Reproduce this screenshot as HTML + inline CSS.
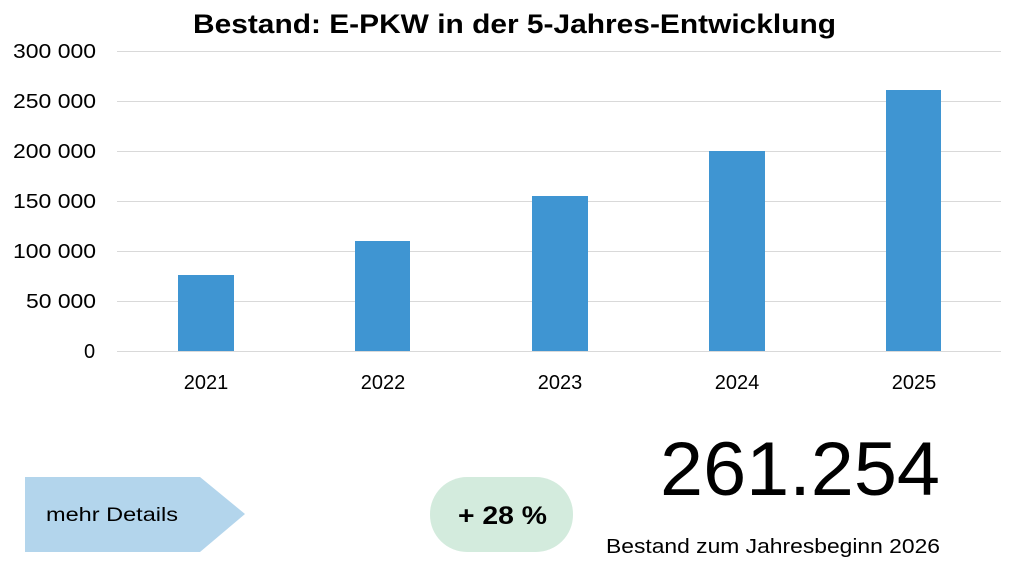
<!DOCTYPE html>
<html><head><meta charset="utf-8"><style>
body{margin:0;width:1024px;height:569px;background:#fff;font-family:"Liberation Sans",sans-serif;overflow:hidden}
</style></head><body>
<svg width="1024" height="569" xmlns="http://www.w3.org/2000/svg" font-family="Liberation Sans, sans-serif">
<text x="193" y="33" font-size="27" font-weight="bold" fill="#000" textLength="643" lengthAdjust="spacingAndGlyphs">Bestand: E-PKW in der 5-Jahres-Entwicklung</text>
<g stroke="#d9d9d9" stroke-width="1">
<line x1="117" x2="1001" y1="51.5" y2="51.5"/><line x1="117" x2="1001" y1="101.5" y2="101.5"/>
<line x1="117" x2="1001" y1="151.5" y2="151.5"/><line x1="117" x2="1001" y1="201.5" y2="201.5"/>
<line x1="117" x2="1001" y1="251.5" y2="251.5"/><line x1="117" x2="1001" y1="301.5" y2="301.5"/>
<line x1="117" x2="1001" y1="351.5" y2="351.5"/>
</g>
<g font-size="20" fill="#000">
<text x="13" y="58" textLength="83" lengthAdjust="spacingAndGlyphs">300 000</text>
<text x="13" y="108" textLength="83" lengthAdjust="spacingAndGlyphs">250 000</text>
<text x="13" y="158" textLength="83" lengthAdjust="spacingAndGlyphs">200 000</text>
<text x="13" y="208" textLength="83" lengthAdjust="spacingAndGlyphs">150 000</text>
<text x="13" y="258" textLength="83" lengthAdjust="spacingAndGlyphs">100 000</text>
<text x="26" y="308" textLength="70" lengthAdjust="spacingAndGlyphs">50 000</text>
<text x="84" y="358">0</text>
</g>
<g fill="#3f95d2">
<rect x="178" y="275" width="56" height="76"/><rect x="355" y="241" width="55" height="110"/>
<rect x="532" y="196" width="56" height="155"/><rect x="709" y="151" width="56" height="200"/>
<rect x="886" y="90" width="55" height="261"/>
</g>
<g font-size="20" fill="#000" text-anchor="middle">
<text x="206" y="389">2021</text><text x="383" y="389">2022</text><text x="560" y="389">2023</text>
<text x="737" y="389">2024</text><text x="914" y="389">2025</text>
</g>
<polygon points="25,477 200,477 245,514 200,552 25,552" fill="#b3d5ec"/>
<text x="46" y="521" font-size="19" fill="#000" textLength="132" lengthAdjust="spacingAndGlyphs">mehr Details</text>
<rect x="430" y="477" width="143" height="75" rx="37" fill="#d3ebdd"/>
<text x="458" y="524" font-size="25" font-weight="bold" fill="#000" textLength="89" lengthAdjust="spacingAndGlyphs">+ 28 %</text>
<text x="660" y="495" font-size="76" fill="#000" textLength="280" lengthAdjust="spacingAndGlyphs">261.254</text>
<text x="606" y="553" font-size="20" fill="#000" textLength="334" lengthAdjust="spacingAndGlyphs">Bestand zum Jahresbeginn 2026</text>
</svg>
</body></html>
